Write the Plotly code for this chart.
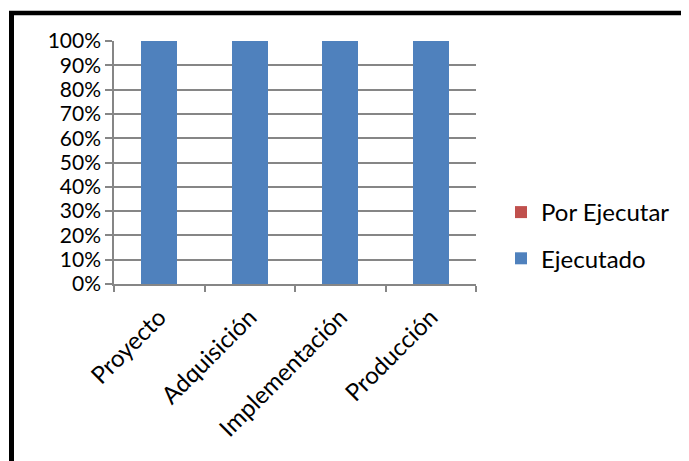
import plotly.graph_objects as go

categories = ["Proyecto", "Adquisición", "Implementación", "Producción"]
ejecutado = [100, 100, 100, 100]
por_ejecutar = [0, 0, 0, 0]

OFF = 8  # browser body margin
W, H = 689 - OFF, 461 - OFF
# plot area in screen pixels
SX0, SX1, SY0, SY1 = 114, 476, 41, 284
L, T = SX0 - OFF, SY0 - OFF
R, B = W - (SX1 - OFF), H - (SY1 - OFF)
FONT = "Lato"
GRAY = "#868686"

fig = go.Figure()
fig.add_trace(go.Bar(x=categories, y=por_ejecutar, name="Por Ejecutar",
                     marker=dict(color="#C0504D", line=dict(width=0)),
                     legendgroup="b"))
fig.add_trace(go.Bar(x=categories, y=ejecutado, name="Ejecutado",
                     marker=dict(color="#4F81BD", line=dict(width=0)),
                     legendgroup="a"))

pw = W - L - R
ph = H - T - B
def px_x(p):  # screen pixel -> paper
    return (p - OFF - L) / pw
def px_y(p):
    return (H - B - (p - OFF)) / ph

fig.update_layout(
    width=W, height=H,
    margin=dict(l=L, r=R, t=T, b=B, pad=0),
    paper_bgcolor="white", plot_bgcolor="white",
    barmode="stack", bargap=0.6,
    font=dict(family=FONT, size=21, color="black"),
    showlegend=True,
    legend=dict(traceorder="grouped", tracegroupgap=12,
                x=px_x(501), y=px_y(190), xanchor="left", yanchor="top",
                font=dict(family=FONT, size=24, color="black"),
                itemwidth=30, bgcolor="rgba(0,0,0,0)"),
    xaxis=dict(showgrid=False, showline=True, linecolor=GRAY, linewidth=1.5,
               ticks="outside", tickson="boundaries", ticklen=6, tickcolor=GRAY,
               tickwidth=1.5, tickangle=-45, ticklabelstandoff=8,
               tickfont=dict(family=FONT, size=24)),
    yaxis=dict(range=[0, 100], dtick=10, ticksuffix="%", showgrid=True,
               gridcolor=GRAY, gridwidth=1.5, showline=True, linecolor=GRAY,
               linewidth=1.5, ticks="outside", ticklen=7, tickcolor=GRAY,
               tickwidth=1.5, zeroline=False, tickfont=dict(family=FONT, size=21)),
)

# chart frame (left and top thick black border)
fig.add_shape(type="line", xref="paper", yref="paper",
              x0=px_x(11.5), x1=px_x(11.5), y0=px_y(11), y1=px_y(470),
              line=dict(color="black", width=5))
fig.add_shape(type="line", xref="paper", yref="paper",
              x0=px_x(9), x1=px_x(700), y0=px_y(13), y1=px_y(13),
              line=dict(color="black", width=4.5))

fig.write_html("out.html")
